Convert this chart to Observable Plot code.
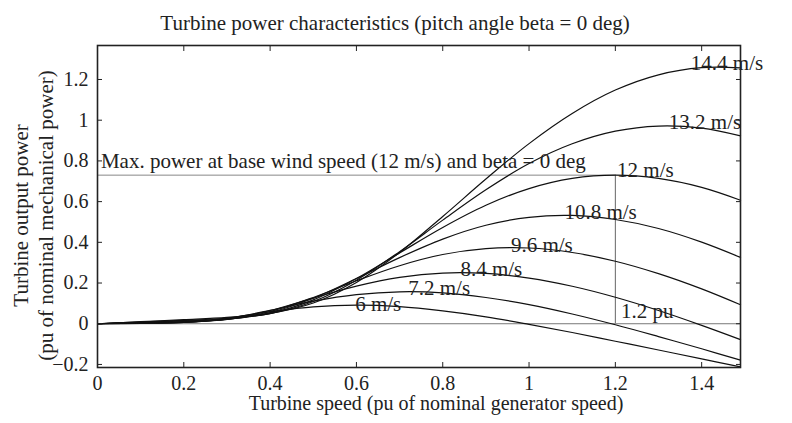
<!DOCTYPE html>
<html><head><meta charset="utf-8">
<script src="https://cdn.jsdelivr.net/npm/d3@7"></script>
<script src="https://cdn.jsdelivr.net/npm/@observablehq/plot@0.6"></script>
<style>body{margin:0;background:#fff}</style>
</head><body><div id="chart"></div>
<script>
// Turbine speed (pu of nominal generator speed)
const speed = [0, 0.1, 0.2, 0.3, 0.4, 0.5, 0.6, 0.7, 0.8, 0.9, 1.0, 1.1, 1.2, 1.3, 1.4, 1.49];
const windSpeeds = ["6 m/s", "7.2 m/s", "8.4 m/s", "9.6 m/s", "10.8 m/s", "12 m/s", "13.2 m/s", "14.4 m/s"];
// Turbine output power (pu) per wind speed
const p6   = [0, 0.002, 0.006, 0.028, 0.059, 0.083, 0.091, 0.084, 0.063, 0.034, -0.003, -0.043, -0.086, -0.129, -0.173, -0.212];
const p7_2 = [0, 0.003, 0.006, 0.025, 0.066, 0.111, 0.143, 0.157, 0.152, 0.129, 0.094, 0.048, -0.005, -0.063, -0.123, -0.179];
const p8_4 = [0, 0.003, 0.008, 0.023, 0.065, 0.126, 0.185, 0.228, 0.249, 0.247, 0.224, 0.184, 0.130, 0.065, -0.008, -0.078];
const p9_6 = [0, 0.0045, 0.009, 0.021, 0.060, 0.129, 0.211, 0.285, 0.340, 0.369, 0.372, 0.350, 0.307, 0.246, 0.171, 0.093];
const p10_8 = [0, 0.006, 0.011, 0.021, 0.055, 0.125, 0.222, 0.325, 0.416, 0.484, 0.523, 0.532, 0.512, 0.468, 0.401, 0.326];
const p12  = [0, 0.007, 0.014, 0.023, 0.051, 0.117, 0.222, 0.348, 0.473, 0.582, 0.664, 0.714, 0.730, 0.714, 0.670, 0.607];
const p13_2 = [0, 0.0085, 0.017, 0.027, 0.050, 0.109, 0.214, 0.354, 0.509, 0.658, 0.787, 0.884, 0.946, 0.971, 0.961, 0.923];
const p14_4 = [0, 0.010, 0.020, 0.031, 0.051, 0.102, 0.203, 0.350, 0.527, 0.711, 0.885, 1.033, 1.148, 1.223, 1.258, 1.257];
const series = [p6, p7_2, p8_4, p9_6, p10_8, p12, p13_2, p14_4];

// Reference: max power at base wind speed
const baseSpeed = 1.2;
const maxPowerBase = 0.73;

// Annotations (data coordinates)
const labelTexts = ["14.4 m/s", "13.2 m/s", "12 m/s", "10.8 m/s", "9.6 m/s", "8.4 m/s", "7.2 m/s", "6 m/s", "1.2 pu",
  "Max. power at base wind speed (12 m/s) and beta = 0 deg"];
const labelX = [1.375, 1.324, 1.204, 1.082, 0.958, 0.841, 0.720, 0.597, 1.213, 0.008];
const labelY = [1.279, 0.991, 0.753, 0.548, 0.386, 0.270, 0.172, 0.098, 0.059, 0.800];

const xTicks = [0, 0.2, 0.4, 0.6, 0.8, 1, 1.2, 1.4];
const yTicks = [-0.2, 0, 0.2, 0.4, 0.6, 0.8, 1, 1.2];

const titleText = "Turbine power characteristics (pitch angle beta = 0 deg)";
const xLabel = "Turbine speed (pu of nominal generator speed)";
const yLabel1 = "Turbine output power";
const yLabel2 = "(pu of nominal mechanical power)";

const rows = [];
series.forEach((s, i) => speed.forEach((x, j) => rows.push({wind: windSpeeds[i], speed: x, power: s[j]})));
const labels = labelTexts.map((t, i) => ({text: t, x: labelX[i], y: labelY[i]}));
const fmt = d3.format("~g");

const plot = Plot.plot({
  width: 792, height: 423,
  marginLeft: 97, marginRight: 52, marginTop: 45, marginBottom: 56,
  style: {fontFamily: "'Liberation Serif', 'DejaVu Serif', serif", fontSize: "20px", background: "#fff", color: "#222"},
  x: {domain: [0, 1.49], label: null},
  y: {domain: [-0.215, 1.367], label: null},
  marks: [
    Plot.ruleY([0], {stroke: "#777", strokeWidth: 1}),
    Plot.ruleY([maxPowerBase], {x1: 0, x2: baseSpeed, stroke: "#888", strokeWidth: 1}),
    Plot.ruleX([baseSpeed], {y1: 0, y2: maxPowerBase, stroke: "#666", strokeWidth: 1}),
    Plot.line(rows, {x: "speed", y: "power", z: "wind", stroke: "#111", strokeWidth: 1.2, curve: "catmull-rom"}),
    Plot.text(labels, {x: "x", y: "y", text: "text", textAnchor: "start", fill: "#222", fontSize: 21}),
    Plot.axisX(xTicks, {anchor: "bottom", tickSize: -5, tickPadding: 13, tickFormat: fmt, label: null, fontSize: 20}),
    Plot.axisX(xTicks, {anchor: "top", tickSize: -5, tickFormat: () => "", label: null}),
    Plot.axisY(yTicks, {anchor: "left", tickSize: -5, tickPadding: 14, tickFormat: fmt, label: null, fontSize: 20}),
    Plot.axisY(yTicks, {anchor: "right", tickSize: -5, tickFormat: () => "", label: null}),
    Plot.frame({stroke: "#222", strokeWidth: 1.6}),
    Plot.text([titleText], {frameAnchor: "top", dy: -30, dx: -24, fill: "#222", fontSize: 21}),
    Plot.text([xLabel], {frameAnchor: "bottom", dy: 42, dx: 17, fill: "#222", fontSize: 20}),
    Plot.text([yLabel1], {frameAnchor: "left", textAnchor: "middle", rotate: -90, dx: -76, dy: 9, fill: "#222", fontSize: 21}),
    Plot.text([yLabel2], {frameAnchor: "left", textAnchor: "middle", rotate: -90, dx: -51, dy: 9, fill: "#222", fontSize: 21})
  ]
});
document.getElementById("chart").appendChild(plot);
</script>
</body></html>
